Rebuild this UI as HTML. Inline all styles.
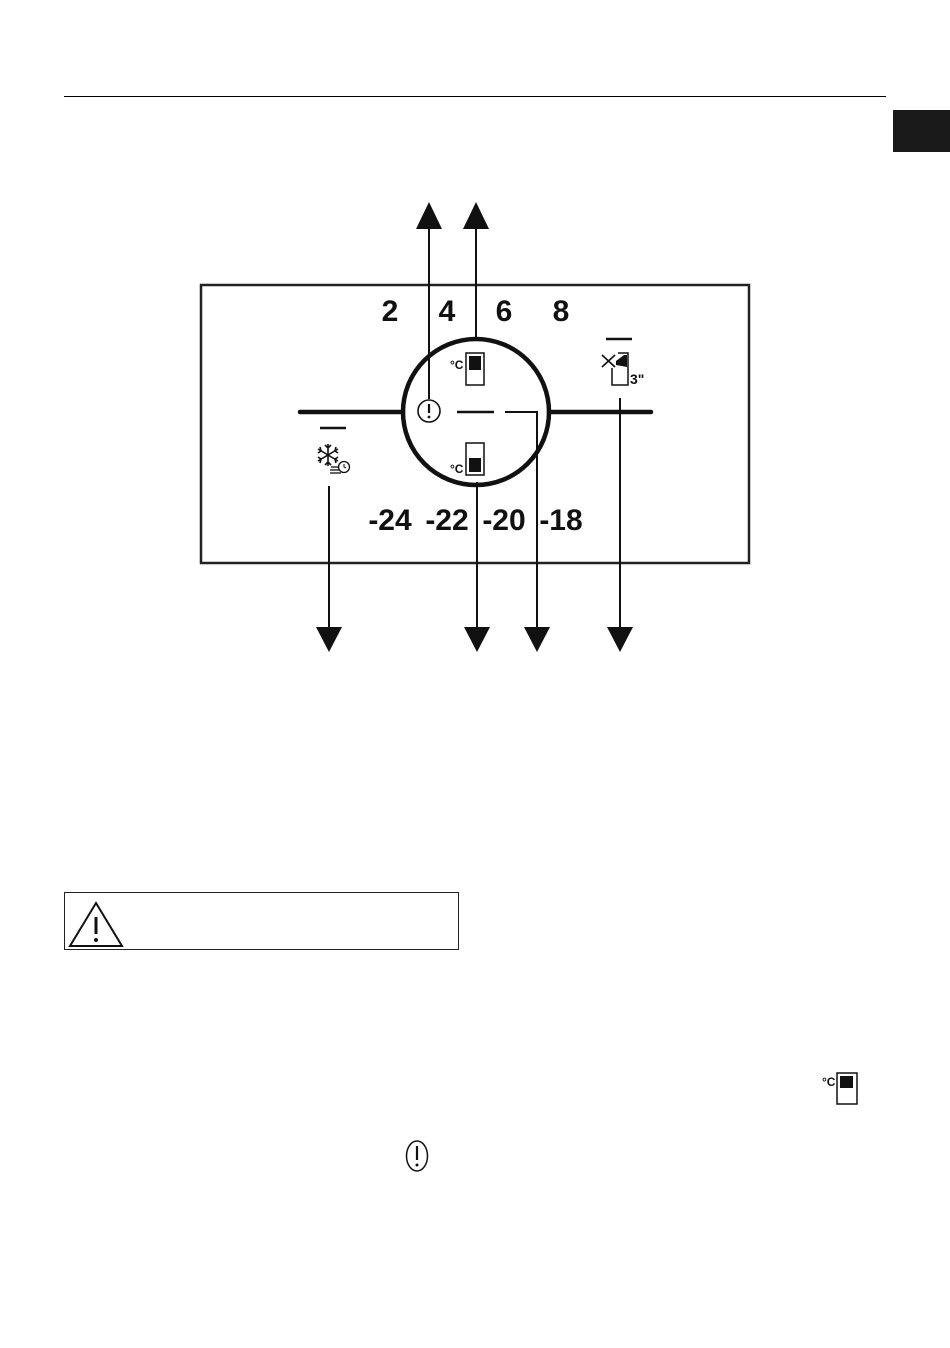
<!DOCTYPE html>
<html><head><meta charset="utf-8"><style>
html,body{margin:0;padding:0;background:#fff;}
svg{display:block;}
text{font-family:"Liberation Sans",sans-serif;}
</style></head><body>
<svg width="950" height="1348" viewBox="0 0 950 1348" xmlns="http://www.w3.org/2000/svg">
<line x1="64" y1="96.5" x2="886" y2="96.5" stroke="#000" stroke-width="1"/>
<rect x="893" y="110" width="57" height="42" fill="#1a1a1a"/>
<rect x="201" y="285" width="548" height="278" fill="none" stroke="#222" stroke-width="2.5"/>
<g font-weight="bold" font-size="30" text-anchor="middle" fill="#111">
<text x="390" y="321">2</text><text x="447" y="321">4</text><text x="504" y="321">6</text><text x="561" y="321">8</text>
<text x="390" y="530">-24</text><text x="447" y="530">-22</text><text x="504" y="530">-20</text><text x="561" y="530">-18</text>
</g>
<circle cx="476" cy="412" r="73" fill="none" stroke="#111" stroke-width="4.5"/>
<line x1="300" y1="412" x2="403" y2="412" stroke="#111" stroke-width="4.5" stroke-linecap="round"/>
<line x1="549" y1="412" x2="651" y2="412" stroke="#111" stroke-width="4.5" stroke-linecap="round"/>
<line x1="457" y1="412" x2="494" y2="412" stroke="#111" stroke-width="2.5"/>
<polyline points="505,412 537,412 537,630" fill="none" stroke="#111" stroke-width="2"/>
<circle cx="429" cy="411" r="11" fill="none" stroke="#111" stroke-width="1.6"/>
<line x1="429" y1="404" x2="429" y2="413" stroke="#111" stroke-width="2.2"/>
<circle cx="429" cy="417" r="1.4" fill="#111"/>
<line x1="429" y1="225" x2="429" y2="399" stroke="#111" stroke-width="2"/>
<polygon points="429,202 416,229 442,229" fill="#111"/>
<line x1="476" y1="225" x2="476" y2="341" stroke="#111" stroke-width="2"/>
<polygon points="476,202 463,229 489,229" fill="#111"/>
<line x1="329" y1="486" x2="329" y2="630" stroke="#111" stroke-width="2"/>
<polygon points="329,652 316,627 342,627" fill="#111"/>
<line x1="477" y1="482" x2="477" y2="630" stroke="#111" stroke-width="2"/>
<polygon points="477,652 464,627 490,627" fill="#111"/>
<polygon points="537,652 524,627 550,627" fill="#111"/>
<line x1="620" y1="398" x2="620" y2="630" stroke="#111" stroke-width="2"/>
<polygon points="620,652 607,627 633,627" fill="#111"/>
<text x="450" y="369" font-size="12" font-weight="bold" fill="#111">°C</text>
<rect x="466" y="353" width="18" height="32" fill="none" stroke="#111" stroke-width="1.5"/>
<rect x="469" y="356" width="12" height="14" fill="#111"/>
<text x="450" y="473" font-size="12" font-weight="bold" fill="#111">°C</text>
<rect x="466" y="443" width="18" height="32" fill="none" stroke="#111" stroke-width="1.5"/>
<rect x="469" y="458" width="12" height="14" fill="#111"/>
<line x1="320" y1="428" x2="346" y2="428" stroke="#111" stroke-width="2.5"/>
<g stroke="#111" stroke-width="1.6" fill="none">
<line x1="328" y1="444" x2="328" y2="466"/>
<line x1="318" y1="449" x2="338" y2="461"/>
<line x1="318" y1="461" x2="338" y2="449"/>
<polyline points="325,445 328,448 331,445"/>
<polyline points="325,465 328,462 331,465"/>
<polyline points="318,453 321,451 320,447"/>
<polyline points="338,457 335,459 336,463"/>
<polyline points="318,457 321,459 320,463"/>
<polyline points="338,453 335,451 336,447"/>
</g>
<g stroke="#111" stroke-width="1.3">
<line x1="331" y1="467" x2="340" y2="467"/><line x1="330" y1="470" x2="340" y2="470"/><line x1="330" y1="473" x2="341" y2="473"/>
</g>
<circle cx="344" cy="467" r="5.5" fill="#fff" stroke="#111" stroke-width="1.3"/>
<polyline points="344,464 344,467 346,468" fill="none" stroke="#111" stroke-width="1"/>
<line x1="606" y1="339" x2="632" y2="339" stroke="#111" stroke-width="2.5"/>
<polyline points="618,353 628,353 628,385 612,385 612,368" fill="none" stroke="#111" stroke-width="1.5"/>
<polygon points="616,361 624,355 627,355 627,367 616,365" fill="#111"/>
<line x1="602" y1="355" x2="615" y2="367" stroke="#111" stroke-width="1.6"/>
<line x1="602" y1="367" x2="615" y2="355" stroke="#111" stroke-width="1.6"/>
<text x="630" y="384" font-size="14" font-weight="bold" fill="#111">3"</text>
<rect x="64.5" y="892.5" width="394" height="57" fill="none" stroke="#222" stroke-width="1"/>
<polygon points="96,903 122,946 70,946" fill="none" stroke="#111" stroke-width="2"/>
<line x1="96" y1="917" x2="96" y2="934" stroke="#111" stroke-width="3"/>
<circle cx="96" cy="940" r="2" fill="#111"/>
<text x="822" y="1086" font-size="12" font-weight="bold" fill="#111">°C</text>
<rect x="837" y="1073" width="20" height="31" fill="none" stroke="#111" stroke-width="1.5"/>
<rect x="840" y="1076" width="13" height="12" fill="#111"/>
<ellipse cx="417" cy="1156" rx="10.5" ry="15" fill="none" stroke="#111" stroke-width="1.5"/>
<line x1="417" y1="1146" x2="417" y2="1160" stroke="#111" stroke-width="2.2"/>
<circle cx="417" cy="1165" r="1.5" fill="#111"/>
</svg>
</body></html>
